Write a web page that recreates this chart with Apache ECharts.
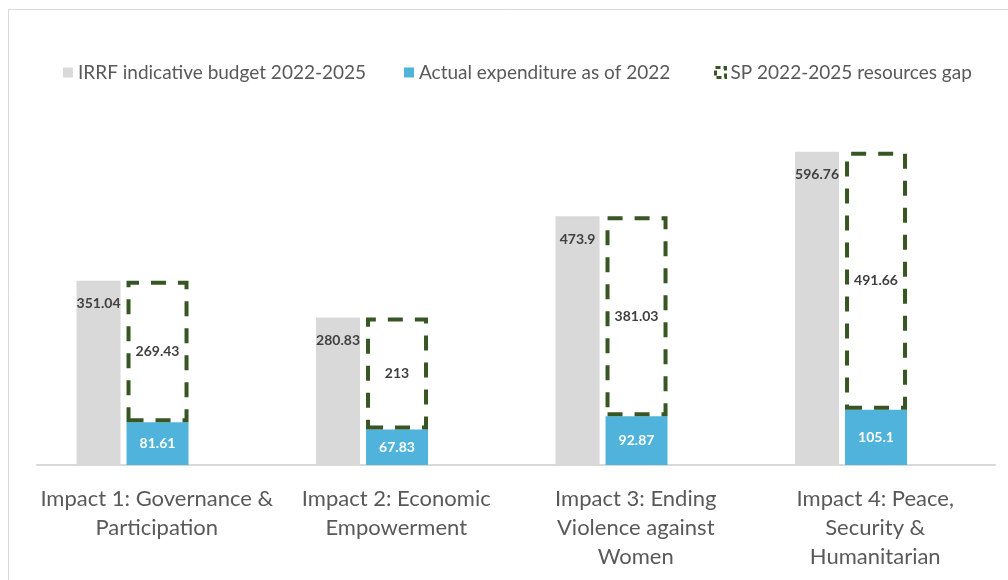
<!DOCTYPE html>
<html>
<head>
<meta charset="utf-8">
<script src="https://cdn.jsdelivr.net/npm/echarts@6/dist/echarts.min.js"></script>
<style>
html, body { margin: 0; padding: 0; background: #fff; }
#main { width: 1008px; height: 580px; }
</style>
</head>
<body>
<div id="main"></div>
<script>
var categories = [
    'Impact 1: Governance &\nParticipation',
    'Impact 2: Economic\nEmpowerment',
    'Impact 3: Ending\nViolence against\nWomen',
    'Impact 4: Peace,\nSecurity &\nHumanitarian'
];
var budget = [351.04, 280.83, 473.9, 596.76];   // IRRF indicative budget
var actual = [81.61, 67.83, 92.87, 105.1];      // expenditure as of 2022
var gap = [269.43, 213, 381.03, 491.66];        // resources gap

var names = ['IRRF indicative budget 2022-2025', 'Actual expenditure as of 2022', 'SP 2022-2025 resources gap'];
var fontName = 'Lato';
var green = '#375623';

var myChart = echarts.init(document.getElementById('main'));

function legendAt(left, name, extra){
    var item = { name: name };
    if (extra) item.itemStyle = extra;
    return {
        left: left,
        top: 58,
        itemWidth: 10,
        itemHeight: 10,
        icon: 'rect',
        selectedMode: false,
        textStyle: { fontFamily: fontName, fontSize: 19, color: '#595959' },
        data: [item]
    };
}

var option = {
    animation: false,
    backgroundColor: '#fff',
    graphic: [{
        type: 'rect',
        shape: { x: 8.5, y: 9.5, width: 1010, height: 590 },
        style: { fill: 'none', stroke: '#d9d9d9', lineWidth: 1 },
        silent: true
    }],
    legend: [
        legendAt(58, names[0]),
        legendAt(399, names[1]),
        legendAt(709, names[2], { color: '#fff', borderColor: green, borderWidth: 3, borderType: [5, 3] })
    ],
    grid: { left: 37, right: 13, top: 45, bottom: 115 },
    xAxis: {
        type: 'category',
        data: categories,
        axisLine: { lineStyle: { color: '#d9d9d9', width: 2 } },
        axisTick: { show: false },
        axisLabel: {
            interval: 0,
            margin: 19,
            fontFamily: fontName,
            fontSize: 22,
            lineHeight: 29,
            color: '#595959'
        }
    },
    yAxis: {
        type: 'value',
        min: 0,
        max: 800,
        show: false,
        splitLine: { show: false }
    },
    series: [
        {
            name: names[0],
            type: 'bar',
            barWidth: 44,
            barGap: '13.6%',
            data: budget,
            itemStyle: { color: '#d9d9d9' },
            label: {
                show: true,
                position: 'insideTop',
                distance: 16,
                fontFamily: fontName,
                fontSize: 14,
                fontWeight: 'bold',
                color: '#404040'
            }
        },
        {
            name: names[1],
            type: 'bar',
            stack: 'spend',
            barWidth: 62,
            data: actual,
            itemStyle: { color: '#4fb3dc' },
            label: {
                show: true,
                position: 'inside',
                fontFamily: fontName,
                fontSize: 14,
                fontWeight: 'bold',
                color: '#fff'
            }
        },
        {
            name: names[2],
            type: 'bar',
            stack: 'spend',
            barWidth: 62,
            data: gap,
            itemStyle: {
                color: 'rgba(255,255,255,0)',
                borderColor: green,
                borderWidth: 4,
                borderType: [15, 12]
            },
            label: {
                show: true,
                position: 'inside',
                fontFamily: fontName,
                fontSize: 14,
                fontWeight: 'bold',
                color: '#404040'
            }
        },
        {
            // empty spacer so the bar group sits left of the category centre
            name: 'spacer',
            type: 'bar',
            barWidth: 40,
            data: [],
            silent: true
        }
    ]
};

myChart.setOption(option);
</script>
</body>
</html>
